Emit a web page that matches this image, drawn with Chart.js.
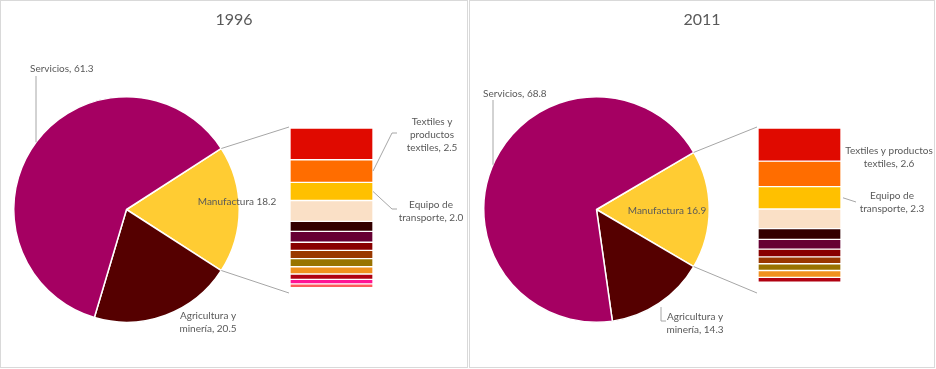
<!DOCTYPE html>
<html>
<head>
<meta charset="utf-8">
<script src="https://cdn.jsdelivr.net/npm/chart.js@4.4.0/dist/chart.umd.min.js"></script>
<style>
	body { margin: 0; background: #fff; }
	#wrap { position: relative; width: 936px; height: 369px; overflow: hidden; }
	.frame { position: absolute; top: 0; height: 368px; border: 1px solid #d9d9d9; box-sizing: border-box; }
	canvas { position: absolute; top: 0; }
</style>
</head>
<body>
<div id="wrap">
	<div class="frame" style="left:0;width:468px"></div>
	<div class="frame" style="left:469px;width:466px"></div>
	<canvas id="pie1996" width="468" height="369" style="left:0"></canvas>
	<canvas id="bar1996" width="468" height="369" style="left:0"></canvas>
	<canvas id="pie2011" width="468" height="369" style="left:468px"></canvas>
	<canvas id="bar2011" width="468" height="369" style="left:468px"></canvas>
</div>
<script>
// data
const years = ['1996', '2011'];
const sectorNames = ['Manufactura', 'Agricultura y minería', 'Servicios'];
const sectorColors = ['#FFCC33', '#550000', '#A50062'];
const sectors1996 = [18.2, 20.5, 61.3];
const sectors2011 = [16.9, 14.3, 68.8];

const branchNames = ['Rama 1', 'Textiles y productos textiles', 'Equipo de transporte', 'Rama 4', 'Rama 5',
	'Rama 6', 'Rama 7', 'Rama 8', 'Rama 9', 'Rama 10', 'Rama 11', 'Rama 12', 'Rama 13'];
const branchColors = ['#E00A00', '#FF6D00', '#FFC000', '#FAE0C6', '#330000', '#660033', '#880000',
	'#993800', '#997300', '#F0901E', '#B00010', '#FF1493', '#FF5A5A'];
const branches1996 = [3.5, 2.5, 2.0, 2.3, 1.1, 1.2, 0.9, 0.9, 0.9, 0.8, 0.6, 0.5, 0.4];
const branches2011 = [3.4, 2.6, 2.3, 2.0, 1.1, 1.0, 0.8, 0.7, 0.7, 0.7, 0.5];

const TEXT = '#595959';
const LINE = '#A6A6A6';
const f = v => v.toFixed(1);
const sum = a => a.reduce((s, v) => s + v, 0);

function edgeY(arc, x) {
	var dx = x - arc.x;
	return arc.y - Math.sqrt(arc.outerRadius * arc.outerRadius - dx * dx);
}

function polyline(ctx, pts) {
	ctx.save();
	ctx.strokeStyle = LINE;
	ctx.lineWidth = 1;
	ctx.beginPath();
	pts.forEach((p, i) => i ? ctx.lineTo(p[0], p[1]) : ctx.moveTo(p[0], p[1]));
	ctx.stroke();
	ctx.restore();
}

function writeLines(ctx, lines, x, y, align) {
	ctx.save();
	ctx.font = '10px Lato';
	ctx.fillStyle = TEXT;
	ctx.textAlign = align || 'center';
	ctx.textBaseline = 'middle';
	lines.forEach((l, i) => ctx.fillText(l, x, y + i * 12.7));
	ctx.restore();
}

function buildPanel(cfg) {
	var pieChart = new Chart(document.getElementById('pie' + cfg.year), {
		type: 'pie',
		data: {
			labels: sectorNames,
			datasets: [{ data: cfg.sectors, backgroundColor: sectorColors, borderColor: '#fff', borderWidth: 1.5 }]
		},
		options: {
			responsive: false,
			animation: false,
			events: [],
			// manufactura slice centred on 3 o'clock
			rotation: 90 - 180 * cfg.sectors[0] / sum(cfg.sectors),
			layout: { padding: { left: cfg.pieLeft, right: 468 - cfg.pieLeft - 227, top: 96, bottom: 46 } },
			plugins: { legend: { display: false }, tooltip: { enabled: false } }
		},
		plugins: [{
			id: 'pieText',
			afterDraw(chart) {
				var ctx = chart.ctx;
				var arc = chart.getDatasetMeta(0).data[0];
				ctx.save();
				ctx.font = '16px Lato';
				ctx.fillStyle = TEXT;
				ctx.textAlign = 'center';
				ctx.textBaseline = 'middle';
				ctx.fillText(cfg.year, 234, 20);
				ctx.restore();
				cfg.pieLabels.forEach(lb => {
					if (lb.leader) polyline(ctx, lb.leader(arc));
					writeLines(ctx, lb.lines, lb.x, lb.y, lb.align);
				});
			}
		}]
	});

	var barChart = new Chart(document.getElementById('bar' + cfg.year), {
		type: 'bar',
		data: {
			labels: [sectorNames[0]],
			datasets: cfg.branches.map((v, i) => ({
				label: branchNames[i],
				data: [v],
				backgroundColor: branchColors[i],
				borderColor: '#fff',
				borderWidth: 1,
				borderSkipped: false,
				barPercentage: 1,
				categoryPercentage: 1
			}))
		},
		options: {
			responsive: false,
			animation: false,
			events: [],
			layout: { padding: { left: 290, right: 95, top: 128, bottom: 76 } },
			scales: {
				x: { display: false, stacked: true },
				y: { display: false, stacked: true, reverse: true, min: 0, max: cfg.sectors[0] }
			},
			plugins: { legend: { display: false }, tooltip: { enabled: false } }
		},
		plugins: [{
			id: 'barText',
			afterDraw(chart) {
				var ctx = chart.ctx;
				var area = chart.chartArea;
				var arc = pieChart.getDatasetMeta(0).data[0];
				var r = arc.outerRadius;
				// connectors pie -> bar
				polyline(ctx, [[arc.x + r * Math.cos(arc.startAngle), arc.y + r * Math.sin(arc.startAngle)], [area.left - 1, area.top - 1]]);
				polyline(ctx, [[arc.x + r * Math.cos(arc.endAngle), arc.y + r * Math.sin(arc.endAngle)], [area.left - 1, area.bottom]]);
				cfg.barLabels.forEach(lb => {
					var bar = chart.getDatasetMeta(lb.seg).data[0];
					var px = bar.x + bar.width / 2;
					var py = (bar.y + bar.base) / 2;
					if (lb.leader) polyline(ctx, lb.leader(px, py));
					writeLines(ctx, lb.lines, lb.x, lb.y);
				});
			}
		}]
	});
}

buildPanel({
	year: years[0],
	sectors: sectors1996,
	branches: branches1996,
	pieLeft: 13,
	pieLabels: [
		{ lines: ['Servicios, ' + f(sectors1996[2])], x: 30, y: 69, align: 'left', leader: arc => [[36, 76], [36, edgeY(arc, 36)]] },
		{ lines: ['Manufactura ' + f(sectors1996[0])], x: 237, y: 202 },
		{ lines: ['Agricultura y', 'minería, ' + f(sectors1996[1])], x: 208, y: 316 }
	],
	barLabels: [
		{ lines: ['Textiles y', 'productos', 'textiles, ' + f(branches1996[1])], x: 432, y: 122, seg: 1, leader: (x, y) => [[x, y], [392, 133], [397, 133]] },
		{ lines: ['Equipo de', 'transporte, ' + f(branches1996[2])], x: 431, y: 205, seg: 2, leader: (x, y) => [[x, y], [392, 209], [397, 209]] }
	]
});

buildPanel({
	year: years[1],
	sectors: sectors2011,
	branches: branches2011,
	pieLeft: 15,
	pieLabels: [
		{ lines: ['Servicios, ' + f(sectors2011[2])], x: 15, y: 94, align: 'left', leader: arc => [[25, 100], [25, edgeY(arc, 25)]] },
		{ lines: ['Manufactura ' + f(sectors2011[0])], x: 199, y: 211 },
		{ lines: ['Agricultura y', 'minería, ' + f(sectors2011[1])], x: 227, y: 317, leader: () => [[193, 307], [193, 321], [198, 321]] }
	],
	barLabels: [
		{ lines: ['Textiles y productos', 'textiles, ' + f(branches2011[1])], x: 421, y: 151, seg: 1 },
		{ lines: ['Equipo de', 'transporte, ' + f(branches2011[2])], x: 424, y: 196, seg: 2, leader: (x, y) => [[x + 2, y], [388, 202]] }
	]
});
</script>
</body>
</html>
